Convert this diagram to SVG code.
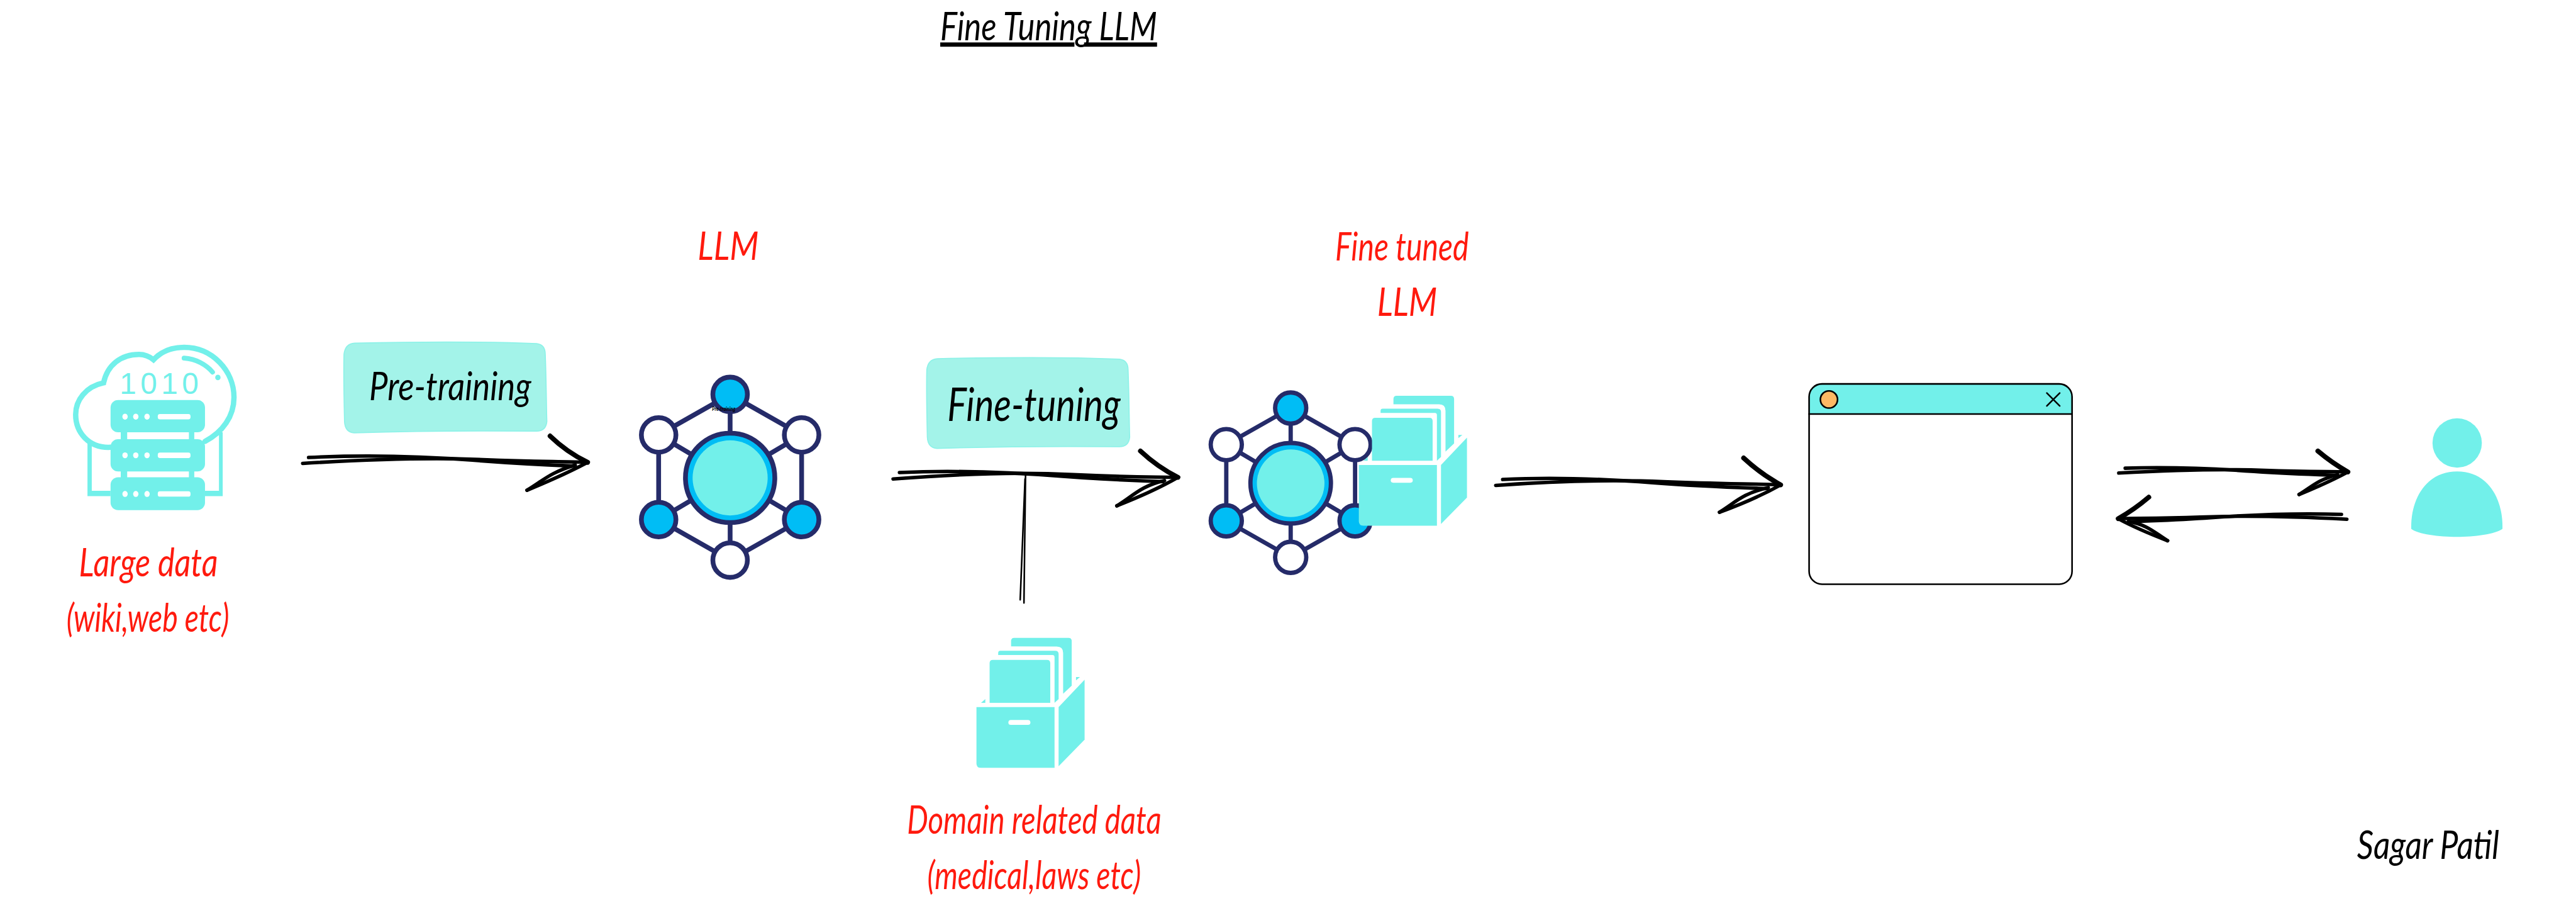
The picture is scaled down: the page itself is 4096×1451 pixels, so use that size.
<svg xmlns="http://www.w3.org/2000/svg" xmlns:xlink="http://www.w3.org/1999/xlink" width="4096" height="1451" viewBox="0 0 4096 1451">
<style>
text{font-family:Lato,"Liberation Sans",sans-serif;font-style:italic;font-weight:400;font-size:72px;fill:#000}
.red{fill:#ff1a0e}
.c{fill:#72f0ea}
.w{fill:#fff}
.ink{fill:none;stroke:#000;stroke-linecap:round;stroke-linejoin:round}
.s{stroke-width:6.500}
.h{stroke-width:9}
.t{stroke-width:3}
.nv{stroke:#252b69;stroke-width:8;fill:none}
.nb{fill:#00bdf5;stroke:#252b69;stroke-width:8}
.nw{fill:#fff;stroke:#252b69;stroke-width:8}
.tag{fill:#a3f3e9;stroke:#8ef2e8;stroke-width:2}
.cl{fill:none;stroke:#72f0ea;stroke-width:10;stroke-linecap:round}
</style>
<defs>
<g id="net">
<path class="nv" d="M0-140L-120-72V70L0 138L120 70V-72ZM0-140V138M-120-72L120 70M120-72L-120 70"/>
<circle class="nb" r="75" style="stroke-width:8"/>
<circle class="c" r="63"/>
<circle class="nb" cx="0" cy="-140" r="29"/>
<circle class="nw" cx="-120" cy="-72" r="29"/>
<circle class="nw" cx="120" cy="-72" r="29"/>
<circle class="nb" cx="-120" cy="70" r="29"/>
<circle class="nb" cx="120" cy="70" r="29"/>
<circle class="nw" cx="0" cy="138" r="29"/>
</g>
<g id="cabinet">
<polygon class="c" points="1828,1311 1836,1304 1836,1311"/>
<polygon class="c" points="2005,1263 2012.4,1263 2005,1269"/>
<path class="c" d="M1884 1205.8V1196q0-6 6-6H1991q6 0 6 6V1279L1981 1294V1218q0-12-12-12Z"/>
<path class="c" d="M1860 1222V1218q0-4 4-4H1966q6.600 0 6.600 6V1304L1965 1311V1226q0-4-4-4Z"/>
<path class="c" d="M1844 1311V1237q0-6 6-6H1951q6 0 6 6V1311Z"/>
<path class="c" d="M1819.500 1319H1965V1432H1828q-8.500 0-8.500-8Z"/>
<polygon class="c" points="1972.600,1319 2021,1268 2021,1379.600 1972.600,1429"/>
<rect class="w" x="1879" y="1343" width="41" height="9" rx="4.500"/>
</g>
<path id="tagshape" class="tag" d="M661 639C760 637 900 636 1000 640Q1016 642 1016 660C1018 710 1018 760 1019 785Q1017 803 1000 803C900 802 760 803 660 806Q643 805 642 785C641 740 640 700 641 660Q643 640 661 639Z"/>
</defs>
<rect width="4096" height="1451" fill="#fff"/>
<g transform="scale(0.85333)">
<g id="connectors">
<g id="arrow-pretraining">
<path class="ink s" d="M564 863C680 856 800 852 900 856S1040 859 1095 861"/>
<path class="ink s" d="M575 852C680 847 790 850 880 857S1020 866 1069 868"/>
<path class="ink h" d="M1025 812Q1056 842 1095 861"/>
<path class="ink s" d="M982 913Q1050 885 1095 861"/>
<path class="ink s" d="M982 913C1012 895 1025 880 1072 866"/>
</g>
<g id="arrow-finetuning">
<path class="ink s" d="M1664 892C1800 882 1900 879 2000 884S2140 888 2195 889"/>
<path class="ink s" d="M1676 880C1790 875 1890 880 1980 887S2120 895 2167 897"/>
<path class="ink h" d="M2125 840Q2157 870 2195 889"/>
<path class="ink s" d="M2081 942Q2150 915 2195 889"/>
<path class="ink s" d="M2081 942C2110 925 2125 905 2170 895"/>
</g>
<g id="arrow-domain">
<path class="ink t" d="M1911 881L1908 1123"/>
<path class="ink t" d="M1910 892L1901 1117"/>
</g>
<g id="arrow-app">
<path class="ink s" d="M2787 904C2900 896 3000 893 3100 897S3260 901 3318 903"/>
<path class="ink s" d="M2800 893C2900 888 2990 892 3080 899S3240 908 3293 910"/>
<path class="ink h" d="M3249 853Q3280 882 3318 903"/>
<path class="ink s" d="M3204 954Q3270 930 3318 903"/>
<path class="ink s" d="M3204 954C3235 935 3245 920 3295 908"/>
</g>
<g id="arrow-user">
<path class="ink s" d="M3948 881C4060 875 4140 873 4220 876S4340 878 4375 879"/>
<path class="ink s" d="M3960 872C4050 869 4130 873 4200 878S4320 884 4354 885"/>
<path class="ink h" d="M4319 840Q4345 862 4375 879"/>
<path class="ink s" d="M4284 921Q4340 898 4375 879"/>
<path class="ink s" d="M4284 921C4310 905 4320 893 4356 884"/>
</g>
<g id="arrow-back">
<path class="ink s" d="M4373 967C4260 961 4180 960 4100 963S3980 965 3947 966"/>
<path class="ink s" d="M4363 958C4270 955 4190 959 4120 964S4000 970 3966 972"/>
<path class="ink h" d="M4004 926Q3977 949 3947 966"/>
<path class="ink s" d="M4039 1007Q3982 985 3947 966"/>
<path class="ink s" d="M4039 1007C4012 990 4002 978 3966 971"/>
</g>
</g>
<g id="title">
<text x="1752" y="75" textLength="404" lengthAdjust="spacingAndGlyphs">Fine Tuning LLM</text>
<rect x="1752" y="79" width="250" height="8"/>
<rect x="2020" y="79" width="136" height="8"/>
</g>
<g id="large-data">
<path class="c" d="M163 826H171V914H206V924H163Z"/>
<path class="c" d="M408 805H415V924H382V914H408Z"/>
<path class="c" d="M225 800H237V825H225ZM352 800H362V825H352ZM225 872H237V895H225ZM352 872H362V895H352Z"/>
<path class="cl" d="M206 833C165 835 141 805 141 772C141 745 160 720 193 713C200 680 225 660 259 660C270 660 280 665 286 670C300 655 320 647 343 647C395 647 436 690 436 740C436 775 415 805 382 822"/>
<path class="cl" style="stroke-width:9" d="M343 667C365 668 385 680 396 693"/>
<circle class="c" cx="406" cy="703" r="5"/>
<text x="223" y="734" textLength="147" lengthAdjust="spacing" style="font-family:'Liberation Sans',sans-serif;font-style:normal;font-weight:400;font-size:56px;fill:#72f0ea">1010</text>
<rect class="c" x="206" y="745" width="176" height="60" rx="14"/>
<rect class="c" x="206" y="818" width="176" height="60" rx="14"/>
<rect class="c" x="206" y="889" width="176" height="61" rx="14"/>
<g class="w">
<ellipse cx="233" cy="776" rx="5" ry="5.500"/><ellipse cx="253" cy="776" rx="5" ry="5.500"/><ellipse cx="274" cy="776" rx="5" ry="5.500"/><rect x="294" y="771" width="61" height="10" rx="4"/>
<ellipse cx="233" cy="848" rx="5" ry="5.500"/><ellipse cx="253" cy="848" rx="5" ry="5.500"/><ellipse cx="274" cy="848" rx="5" ry="5.500"/><rect x="294" y="843" width="61" height="10" rx="4"/>
<ellipse cx="233" cy="920" rx="5" ry="5.500"/><ellipse cx="253" cy="920" rx="5" ry="5.500"/><ellipse cx="274" cy="920" rx="5" ry="5.500"/><rect x="294" y="915" width="61" height="10" rx="4"/>
</g>
<text class="red" x="147" y="1073" textLength="259" lengthAdjust="spacingAndGlyphs">Large data</text>
<text class="red" x="124" y="1177" textLength="303" lengthAdjust="spacingAndGlyphs">(wiki,web etc)</text>
</g>
<g id="pre-training">
<use href="#tagshape"/>
<text x="688" y="745" textLength="302" lengthAdjust="spacingAndGlyphs">Pre-training</text>
</g>
<g id="llm">
<use href="#net" transform="translate(1360.500 890) scale(1.11)"/>
<text x="1327" y="765" textLength="43" lengthAdjust="spacingAndGlyphs" style="font-size:11px;font-weight:700">Pre-training</text>
<text class="red" x="1300" y="484" textLength="114" lengthAdjust="spacingAndGlyphs">LLM</text>
</g>
<g id="fine-tuning">
<use href="#tagshape" transform="translate(1086 29)"/>
<text x="1765" y="784" textLength="323" lengthAdjust="spacingAndGlyphs" style="font-size:86px">Fine-tuning</text>
</g>
<g id="domain-data">
<use href="#cabinet" transform="translate(0 -2)"/>
<text class="red" x="1690" y="1553" textLength="474" lengthAdjust="spacingAndGlyphs">Domain related data</text>
<text class="red" x="1728" y="1656" textLength="398" lengthAdjust="spacingAndGlyphs">(medical,laws etc)</text>
</g>
<g id="fine-tuned-llm">
<use href="#net" transform="translate(2405 900)"/>
<use href="#cabinet" transform="translate(712.500 -453)"/>
<text class="red" x="2488" y="485" textLength="249" lengthAdjust="spacingAndGlyphs">Fine tuned</text>
<text class="red" x="2566" y="588" textLength="112" lengthAdjust="spacingAndGlyphs">LLM</text>
</g>
<g id="app-window">
<rect x="3371" y="715" width="490" height="373" rx="24" fill="#fff"/>
<path class="c" d="M3371 771V739a24 24 0 0 1 24-24H3837a24 24 0 0 1 24 24V771Z"/>
<path class="ink t" d="M3371 771H3861"/>
<rect x="3371" y="715" width="490" height="373" rx="24" class="ink t"/>
<circle cx="3408" cy="744" r="16" fill="#fdb964" stroke="#000" stroke-width="3"/>
<path class="ink t" d="M3814 732L3838 756M3838 732L3814 756"/>
</g>
<g id="user">
<circle class="c" cx="4578.600" cy="825" r="46"/>
<path class="c" d="M4493 980C4493 930 4520 878 4578.600 878C4637 878 4663 930 4663 980V985C4650 995 4610 1000 4578 1000C4545 1000 4505 995 4493 985Z"/>
</g>
<g id="credit">
<text x="4392" y="1600" textLength="265" lengthAdjust="spacingAndGlyphs">Sagar Patil</text>
</g>
</g>
</svg>
